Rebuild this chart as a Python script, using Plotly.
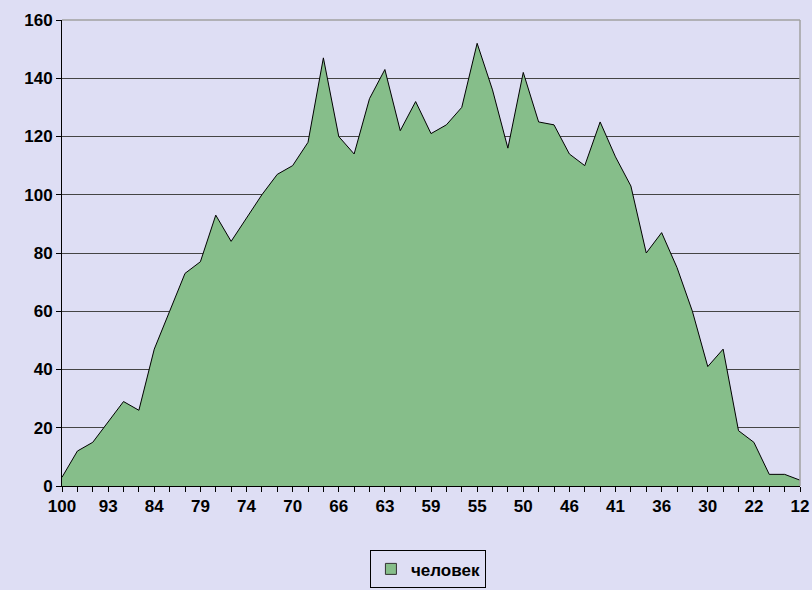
import plotly.graph_objects as go

# Tick labels (ages) shown on the category axis, every 3rd category
age_labels = ["100", "93", "84", "79", "74", "70", "66", "63", "59",
              "55", "50", "46", "41", "36", "30", "22", "12"]

# Number of people per category (49 categories, left to right)
people = [3, 12, 15, 22, 29, 26, 47, 60, 73, 77,
          93, 84, 92, 100, 107, 110, 118, 147, 120, 114,
          133, 143, 122, 132, 121, 124, 130, 152, 136, 116,
          142, 125, 124, 114, 110, 125, 113, 103, 80, 87,
          75, 60, 41, 47, 19, 15, 4, 4, 2]

series_name = "человек"

BG = "#DEDEF4"
GREEN = "#86BE8A"
FONT = "Liberation Sans, Arial, sans-serif"

idx = list(range(len(people)))
tick_text = []
for i in idx:
    if i % 3 == 0 and i // 3 < len(age_labels):
        tick_text.append(age_labels[i // 3])
    else:
        tick_text.append("")

fig = go.Figure()
fig.add_trace(go.Scatter(
    x=idx, y=people, mode="lines", fill="tozeroy",
    fillcolor=GREEN, line=dict(color="black", width=1),
    showlegend=False, hoverinfo="x+y"))
# legend entry
fig.add_trace(go.Scatter(
    x=[None], y=[None], mode="markers", name=series_name,
    marker=dict(symbol="square", size=11, color=GREEN,
                line=dict(color="#333333", width=1))))

fig.update_layout(
    width=812, height=590,
    paper_bgcolor=BG, plot_bgcolor=BG,
    margin=dict(l=62, r=12, t=20, b=104, autoexpand=False),
    font=dict(family=FONT, size=16, color="black"),
    showlegend=True,
    legend=dict(orientation="h", xref="container", yref="container",
                x=0.527, xanchor="center", y=0.035, yanchor="middle",
                bordercolor="black", borderwidth=1, bgcolor=BG,
                font=dict(family=FONT, size=17, color="black", weight="bold"),
                itemwidth=30),
    xaxis=dict(range=[0, len(people) - 1], tickmode="array",
               tickvals=idx, ticktext=tick_text, automargin=False,
               ticks="outside", ticklen=5, tickcolor="black",
               showline=True, linecolor="black", linewidth=1,
               showgrid=False, zeroline=False,
               tickfont=dict(family=FONT, size=17, color="black", weight="bold"),
               tickangle=0),
    yaxis=dict(range=[0, 160], tickmode="array", automargin=False,
               tickvals=list(range(0, 161, 20)),
               ticks="outside", ticklen=5, tickcolor="black",
               showline=True, linecolor="black", linewidth=1,
               showgrid=True, gridcolor="#444444", gridwidth=1,
               zeroline=False,
               tickfont=dict(family=FONT, size=17, color="black", weight="bold")),
)
# light grey top and right border of the plot area
fig.add_shape(type="line", xref="paper", yref="paper", x0=0, x1=1, y0=1, y1=1,
              line=dict(color="#A0A0A0", width=1.5), layer="above")
fig.add_shape(type="line", xref="paper", yref="paper", x0=1, x1=1, y0=0, y1=1,
              line=dict(color="#A0A0A0", width=1.5), layer="above")

fig.write_html("out.html", config={"displayModeBar": False},
               post_script="document.body.style.margin='0';"
                           "document.body.style.background='" + BG + "';")
